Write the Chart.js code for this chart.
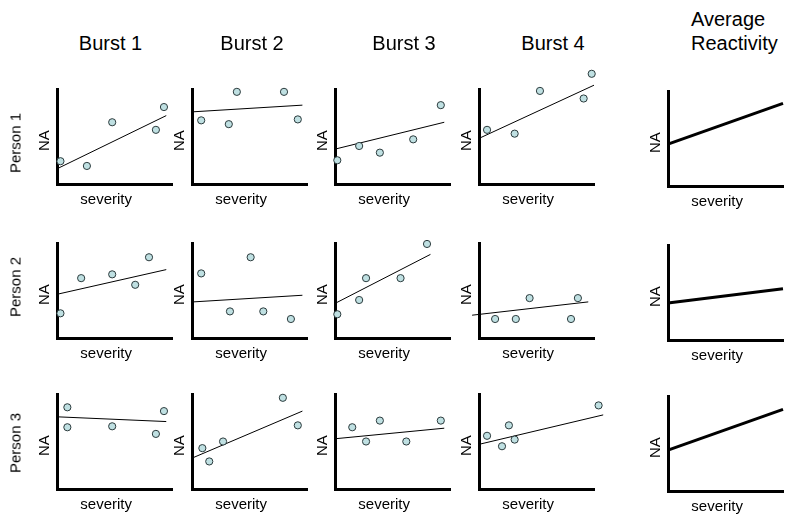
<!DOCTYPE html>
<html>
<head>
<meta charset="utf-8">
<script src="https://cdn.jsdelivr.net/npm/chart.js@4"></script>
<style>
body { margin: 0; background: #fff; }
#wrap { position: relative; width: 800px; height: 522px; overflow: hidden; font-family: "Liberation Sans", Arial, sans-serif; color: #000; }
#wrap canvas { position: absolute; }
.lbl { position: absolute; white-space: nowrap; transform: translate(-50%, -50%); line-height: 1; }
.left { transform: translate(0, -50%); }
.rot { transform: translate(-50%, -50%) rotate(-90deg); }
</style>
</head>
<body>
<div id="wrap"></div>
<script>
const bursts = ['Burst 1', 'Burst 2', 'Burst 3', 'Burst 4'];
const avgTitle = ['Average', 'Reactivity'];
const persons = ['Person 1', 'Person 2', 'Person 3'];
const xTitle = 'severity';
const yTitle = 'NA';

// severity (x) / NA (y) per burst, one list per person
const p1Sev = [[0.3, 2.6, 4.8, 8.6, 9.3], [0.8, 3.2, 3.9, 8.0, 9.2], [0.2, 2.1, 3.9, 6.8, 9.2], [0.7, 3.1, 5.3, 9.1, 9.8]];
const p1NA  = [[2.4, 1.9, 6.5, 5.7, 8.1], [6.7, 6.3, 9.7, 9.7, 6.8], [2.5, 4.0, 3.3, 4.7, 8.3], [5.7, 5.3, 9.8, 9.0, 11.6]];
const p2Sev = [[0.3, 2.1, 4.8, 6.8, 8.0], [0.8, 3.3, 5.1, 6.2, 8.6], [0.2, 2.1, 2.7, 5.7, 8.0], [1.4, 3.2, 4.4, 8.0, 8.6]];
const p2NA  = [[2.6, 6.3, 6.7, 5.6, 8.5], [6.8, 2.8, 8.5, 2.8, 2.0], [2.5, 4.0, 6.3, 6.3, 9.9], [2.0, 2.0, 4.2, 2.0, 4.2]];
const p3Sev = [[0.9, 0.9, 4.8, 8.6, 9.3], [0.9, 1.5, 2.7, 7.9, 9.2], [1.5, 2.7, 3.9, 6.2, 9.2], [0.7, 2.0, 2.6, 3.1, 10.4]];
const p3NA  = [[8.6, 6.5, 6.6, 5.8, 8.2], [4.3, 2.9, 5.0, 9.6, 6.7], [6.5, 5.0, 7.2, 5.0, 7.2], [5.6, 4.5, 6.7, 5.2, 8.8]];

// fitted lines: [x0, y0, x1, y1]
const p1Fit = [[0, 1.6, 9.5, 7.2], [0.1, 7.6, 9.6, 8.3], [0.1, 3.7, 9.5, 6.5], [0, 4.8, 10, 10.4]];
const p2Fit = [[0, 4.6, 9.5, 7.2], [0.1, 3.8, 9.6, 4.5], [0.1, 3.7, 8.3, 8.8], [-0.6, 2.4, 9.5, 3.8]];
const p3Fit = [[0, 7.6, 9.5, 7.1], [0.1, 3.3, 9.6, 8.2], [0.1, 5.3, 9.5, 6.4], [0, 4.7, 10.8, 7.8]];
const avgFit = [[0, 4.4, 10, 8.7], [0, 3.9, 10, 5.4], [0, 4.3, 10, 8.6]];

const allSev = [p1Sev, p2Sev, p3Sev];
const allNA = [p1NA, p2NA, p3NA];
const allFit = [p1Fit, p2Fit, p3Fit];

// layout
const colX = [57, 192, 335, 479, 668];
const rowTop = [89, 243, 394];
const axW = 115, axH = 95;
const padL = 36, padT = 20, padR = 20, padB = 30;
const FONT = '"Liberation Sans", Arial, sans-serif';

const wrap = document.getElementById('wrap');

function addLabel(text, x, y, size, cls) {
    const d = document.createElement('div');
    d.className = 'lbl' + (cls ? ' ' + cls : '');
    d.textContent = text;
    d.style.left = x + 'px';
    d.style.top = y + 'px';
    d.style.fontSize = size + 'px';
    wrap.appendChild(d);
}

function makePanel(left, top, datasets) {
    const c = document.createElement('canvas');
    c.width = padL + axW + padR;
    c.height = padT + axH + padB;
    c.style.left = (left - padL) + 'px';
    c.style.top = (top - padT) + 'px';
    wrap.appendChild(c);
    new Chart(c, {
        type: 'scatter',
        data: { datasets: datasets },
        options: {
            responsive: false,
            animation: false,
            events: [],
            layout: { padding: { top: padT, right: padR, left: 0, bottom: 0 } },
            plugins: { legend: { display: false }, tooltip: { enabled: false } },
            scales: {
                x: {
                    type: 'linear', min: 0, max: 10,
                    grid: { display: false },
                    ticks: { display: false },
                    border: { color: '#000', width: 3 },
                    title: { display: true, text: xTitle + '    ', color: '#000', font: { family: FONT, size: 15 }, padding: { top: 0, bottom: 5 } },
                    afterFit: (s) => { s.height = padB; }
                },
                y: {
                    type: 'linear', min: 0, max: 10,
                    grid: { display: false },
                    ticks: { display: false },
                    border: { color: '#000', width: 3 },
                    title: { display: true, text: yTitle + '  ', color: '#000', font: { family: FONT, size: 15 }, padding: { top: 15, bottom: 0 } },
                    afterFit: (s) => { s.width = padL; }
                }
            }
        }
    });
}

function fitLine(f, w) {
    return {
        type: 'line',
        data: [{ x: f[0], y: f[1] }, { x: f[2], y: f[3] }],
        borderColor: '#000',
        borderWidth: w,
        pointRadius: 0,
        clip: false
    };
}

for (let r = 0; r < persons.length; r++) {
    for (let b = 0; b < bursts.length; b++) {
        const sev = allSev[r][b];
        const na = allNA[r][b];
        const pts = {
            type: 'scatter',
            data: sev.map((x, i) => ({ x: x, y: na[i] })),
            pointRadius: 3.6,
            hoverRadius: 17, // widens the in-area margin so dots above the axis still draw
            backgroundColor: '#bfe0e2',
            borderColor: '#2b3a3c',
            borderWidth: 1,
            clip: false
        };
        makePanel(colX[b], rowTop[r], [pts, fitLine(allFit[r][b], 1)]);
    }
    makePanel(colX[4], rowTop[r] + 2, [fitLine(avgFit[r], 3)]);
    addLabel(persons[r], 15, [143, 287, 443][r], 15, 'rot');
}

const burstX = [110.5, 252, 404, 553];
bursts.forEach((t, i) => addLabel(t, burstX[i], 43, 20));
addLabel(avgTitle[0], 691, 19, 20, 'left');
addLabel(avgTitle[1], 691, 43, 20, 'left');
</script>
</body>
</html>
